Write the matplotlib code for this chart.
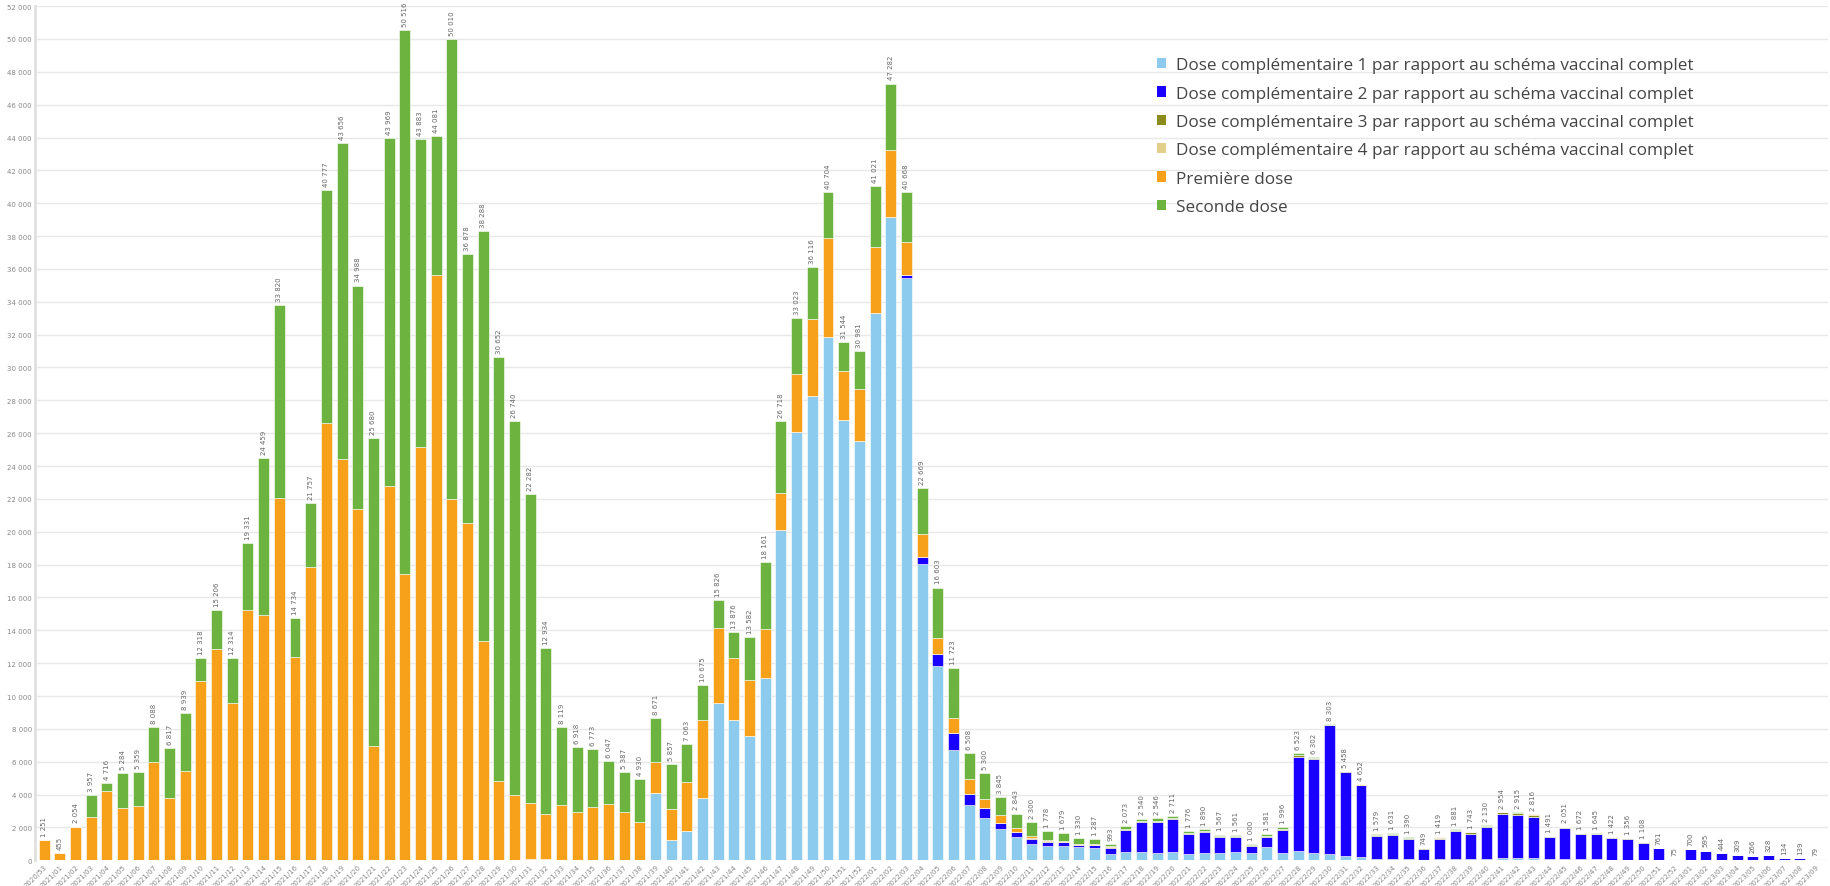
import numpy as np
import matplotlib
matplotlib.use('Agg')
import matplotlib.pyplot as plt
from matplotlib.patches import Patch

# weeks: 2020/53, 2021/01..52, 2022/01..52, 2023/01..09
weeks = (['2020/53'] + [f'2021/{w:02d}' for w in range(1, 53)]
         + [f'2022/{w:02d}' for w in range(1, 53)] + [f'2023/{w:02d}' for w in range(1, 10)])

totals = [1251, 455, 2054, 3957, 4716, 5284, 5359, 8088, 6817, 8939,
          12318, 15206, 12314, 19331, 24459, 33820, 14734, 21757, 40777, 43656,
          34988, 25680, 43969, 50516, 43883, 44081, 50010, 36878, 38288, 30652,
          26740, 22282, 12934, 8119, 6918, 6773, 6047, 5387, 4930, 8671,
          5857, 7063, 10675, 15826, 13876, 13582, 18161, 26718, 33023, 36116,
          40704, 31544, 30981, 41021, 47282, 40668, 22669, 16603, 11723, 6508,
          5300, 3845, 2843, 2300, 1778, 1679, 1330, 1287, 993, 2073,
          2540, 2546, 2711, 1776, 1890, 1567, 1561, 1000, 1581, 1996,
          6523, 6302, 8303, 5458, 4652, 1579, 1631, 1390, 749, 1419,
          1881, 1743, 2130, 2954, 2915, 2816, 1491, 2051, 1672, 1645,
          1422, 1356, 1108, 761, 75, 700, 595, 444, 309, 266,
          328, 134, 139, 79]

dose_c1 = [0] * 30 + [40, 60, 50, 0, 0, 0, 0, 0, 0, 4100,
          1244, 1775, 3815, 9545, 8548, 7550, 11110, 20090, 26070, 28280,
          31840, 26780, 25500, 33340, 39180, 35470, 18020, 11800, 6690, 3350,
          2600, 1900, 1410, 1020, 880, 870, 780, 720, 370, 490,
          510, 450, 530, 370, 470, 450, 490, 470, 800, 450,
          570, 430, 390, 265, 225, 100, 100, 80, 40, 80,
          80, 80, 90, 150, 150, 120, 60, 70, 50, 50,
          40, 40, 30, 25, 5, 20, 15, 15, 10, 10,
          10, 5, 5, 3]

dose_c2 = [0] * 55 + [150, 430, 766, 1050, 670,
          580, 370, 320, 290, 260, 230, 130, 190, 390, 1350,
          1800, 1880, 1960, 1230, 1240, 950, 900, 380, 600, 1380,
          5730, 5750, 7820, 5110, 4330, 1380, 1420, 1200, 620, 1230,
          1680, 1550, 1920, 2650, 2610, 2540, 1340, 1880, 1540, 1520,
          1310, 1250, 1020, 700, 65, 650, 555, 410, 285, 245,
          305, 124, 129, 72]

dose_c3 = [0] * 62 + [20, 20, 20, 20, 30, 40, 30, 60,
          60, 60, 60, 50, 60, 50, 60, 50, 60, 60,
          100, 50, 40, 40, 50, 60, 70, 70, 60, 70,
          80, 70, 80, 110, 110, 110, 60, 70, 50, 45,
          45, 40, 35, 25, 3, 20, 15, 12, 8, 6,
          8, 3, 3, 2]

dose_c4 = [0] * 93 + [10, 10, 10] + [0] * 18

first_dose = [1251, 455, 2054, 2650, 4245, 3163, 3286, 5959, 3816, 5449,
              10900, 12890, 9545, 15240, 14960, 22080, 12390, 17870, 26640, 24430,
              21370, 6980, 22790, 17450, 25140, 35610, 22010, 20510, 13320, 4840,
              3920, 3420, 2780, 3367, 2939, 3265, 3429, 2918, 2306, 1857,
              1898, 3019, 4753, 4625, 3775, 3420, 2990, 2280, 3560, 4700,
              6050, 2990, 3200, 3980, 4060, 1990, 1420, 969, 910, 910,
              530, 470, 210, 130, 100, 80, 70, 70, 50, 30,
              30, 30, 30, 30, 30, 30, 30, 25, 30, 30,
              30, 20, 15, 15, 20, 15, 15, 15, 10, 15,
              15, 15, 15, 15, 10, 10, 10, 10, 10, 10,
              10, 10, 8, 6, 1, 5, 5, 4, 3, 3,
              3, 1, 1, 1]

second_dose = [0, 0, 0, 1307, 471, 2121, 2073, 2129, 3001, 3490,
               1418, 2316, 2769, 4091, 9499, 11740, 2344, 3887, 14137, 19226,
               13618, 18700, 21179, 33066, 18743, 8471, 28000, 16368, 24968, 25812,
               22780, 18802, 10104, 4752, 3979, 3508, 2618, 2469, 2624, 2714,
               2715, 2269, 2107, 1656, 1553, 2612, 4061, 4348, 3393, 3136,
               2814, 1774, 2281, 3701, 4042, 3058, 2799, 3068, 3073, 1578,
               1590, 1105, 883, 840, 518, 479, 320, 267, 153, 143,
               140, 126, 131, 96, 90, 87, 81, 75, 91, 76,
               93, 52, 38, 28, 27, 24, 26, 25, 19, 24,
               26, 28, 25, 19, 25, 26, 21, 21, 22, 20,
               17, 16, 15, 5, 1, 5, 5, 3, 3, 2,
               2, 1, 1, 1]

series = [
    ('Dose complémentaire 1 par rapport au schéma vaccinal complet', dose_c1, '#8ccbee'),
    ('Dose complémentaire 2 par rapport au schéma vaccinal complet', dose_c2, '#1a00ff'),
    ('Dose complémentaire 3 par rapport au schéma vaccinal complet', dose_c3, '#8c8c1e'),
    ('Dose complémentaire 4 par rapport au schéma vaccinal complet', dose_c4, '#e2d08a'),
    ('Première dose', first_dose, '#f7a11a'),
    ('Seconde dose', second_dose, '#6db33f'),
]


def fr(n):
    return f'{int(n):,}'.replace(',', ' ')


fig = plt.figure(figsize=(18.3, 8.87), dpi=100)
ax = fig.add_axes([0.019, 0.029, 0.98, 0.963])

x = np.arange(len(weeks))
bottom = np.zeros(len(weeks))
for name, vals, col in series:
    vals = np.array(vals, dtype=float)
    ax.bar(x, vals, 0.7, bottom=bottom, color=col, edgecolor='white', linewidth=0.4, zorder=2)
    bottom += vals

for xi, t in zip(x, totals):
    ax.text(xi, t + 250, fr(t), rotation=90, ha='center', va='bottom',
            fontsize=5, color='#666666', zorder=3)

ax.set_ylim(0, 52000)
ax.set_xlim(-0.6, len(weeks) - 0.2)
ax.set_yticks(np.arange(0, 52001, 2000))
ax.set_yticklabels([fr(v) for v in np.arange(0, 52001, 2000)], fontsize=5, color='#888888')
ax.set_xticks(x)
ax.set_xticklabels(weeks, rotation=45, ha='right', rotation_mode='anchor', fontsize=5, color='#888888')
ax.tick_params(length=0, pad=2)
ax.grid(axis='y', color='#e8e8e8', linewidth=1, zorder=0)
ax.set_axisbelow(True)
for s in ['top', 'right', 'bottom']:
    ax.spines[s].set_visible(False)
ax.spines['left'].set_color('#e0e0e0')
ax.spines['left'].set_linewidth(2)

handles = [Patch(facecolor=col, label=name) for name, vals, col in series]
leg = ax.legend(handles=handles, loc='upper left', bbox_to_anchor=(0.617, 0.958),
                frameon=False, handlelength=0.55, handleheight=0.55,
                handletextpad=0.6, labelspacing=0.72, prop={'family': 'Open Sans', 'size': 12.3})
for t in leg.get_texts():
    t.set_color('#444444')

fig.savefig('out.png', dpi=100)
